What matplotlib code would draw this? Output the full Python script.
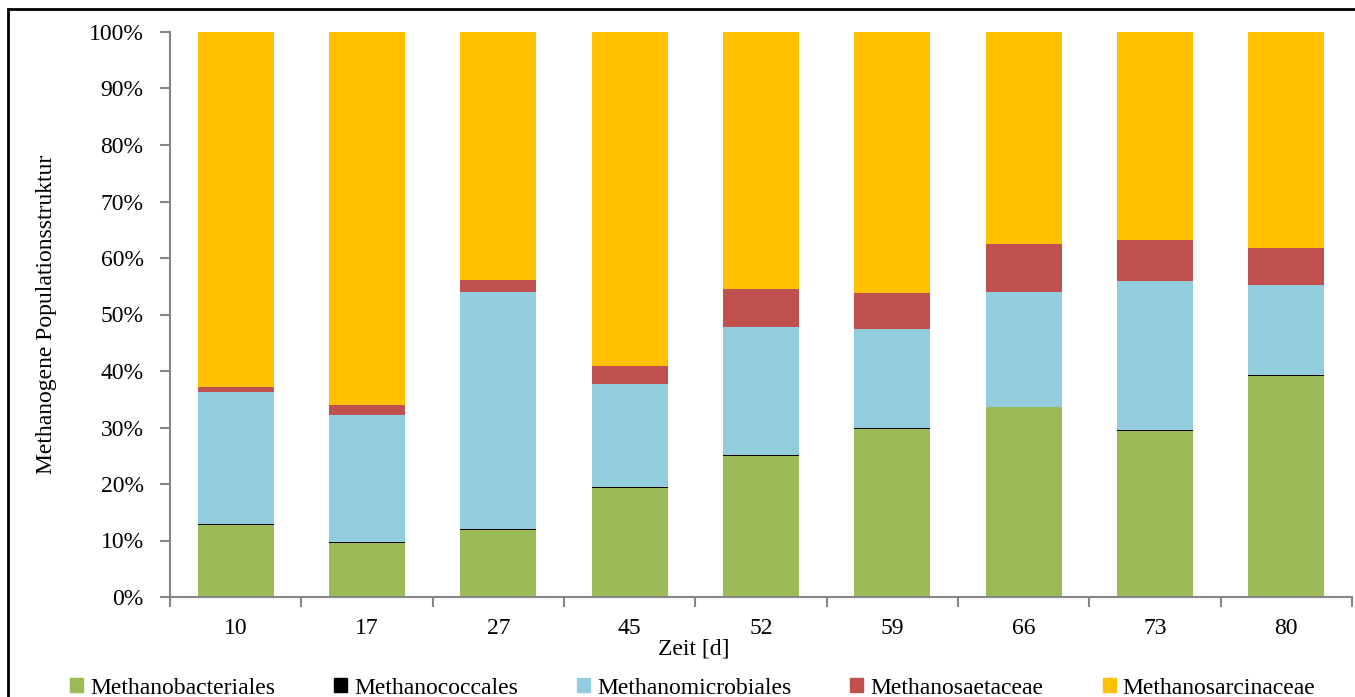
import matplotlib
matplotlib.use("Agg")
import matplotlib.pyplot as plt
from matplotlib.patches import Rectangle
import numpy as np

plt.rcParams['font.family'] = ['Liberation Serif', 'DejaVu Serif']

days = ['10', '17', '27', '45', '52', '59', '66', '73', '80']
groups = ['Methanobacteriales', 'Methanococcales', 'Methanomicrobiales',
          'Methanosaetaceae', 'Methanosarcinaceae']

# Anteile in Prozent je Probenahmetag
methanobacteriales = [12.7, 9.6, 11.8, 19.3, 25.0, 29.7, 33.6, 29.4, 39.1]
methanococcales = [0.3, 0.2, 0.15, 0.15, 0.2, 0.2, 0.0, 0.2, 0.2]
methanomicrobiales = [23.3, 22.4, 42.0, 18.2, 22.5, 17.6, 20.3, 26.3, 15.9]
methanosaetaceae = [0.9, 1.7, 2.1, 3.3, 6.9, 6.3, 8.5, 7.3, 6.6]
methanosarcinaceae = [62.8, 66.1, 43.9, 59.1, 45.4, 46.2, 37.6, 36.8, 38.2]

series = [methanobacteriales, methanococcales, methanomicrobiales,
          methanosaetaceae, methanosarcinaceae]
colors = ['#9BBB59', '#000000', '#93CDDD', '#C0504D', '#FFC000']
fs = 17

fig = plt.figure(figsize=(13.55, 6.97), dpi=100)
ax = fig.add_axes([170/1355, 1-597/697, 1182/1355, 565/697])

x = np.arange(len(days))
bottom = np.zeros(len(days))
for name, vals, c in zip(groups, series, colors):
    v = np.array(vals)
    ax.bar(x, v, 0.58, bottom=bottom, color=c, label=name, linewidth=0)
    bottom += v

ax.set_xlim(-0.5, len(days) - 0.5)
ax.set_ylim(0, 100)
ax.set_yticks(np.arange(0, 101, 10))
ax.set_yticklabels([f'{t}%' for t in range(0, 101, 10)])
ax.set_xticks(x)
ax.set_xticklabels(days)
ax.set_xticks(np.arange(-0.5, len(days)), minor=True)

for s in ['top', 'right']:
    ax.spines[s].set_visible(False)
for s in ['left', 'bottom']:
    ax.spines[s].set_color('#868686')
    ax.spines[s].set_linewidth(1.5)

ax.tick_params(axis='y', which='major', length=7, width=1.5, color='#868686',
               labelsize=fs, pad=12)
ax.tick_params(axis='x', which='major', length=0, labelsize=fs, pad=15)
ax.tick_params(axis='x', which='minor', length=7, width=1.5, color='#868686')

ax.set_xlabel('Zeit [d]', fontsize=fs)
ax.xaxis.set_label_coords(0.443, -0.074)
ax.set_ylabel('Methanogene Populationsstruktur', fontsize=fs)
ax.yaxis.set_label_coords(-0.096, 0.5)

handles = [Rectangle((0, 0), 1, 1, color=c) for c in colors]
fig.legend(handles, groups, loc='center left', ncol=5, frameon=False,
           bbox_to_anchor=(70/1355, 1-688/697), fontsize=fs,
           handlelength=0.55, handleheight=0.55, handletextpad=0.3,
           columnspacing=2.5, borderpad=0, borderaxespad=0)

# Rahmen um die Grafik
fig.add_artist(Rectangle((8/1355, -0.2), 2.0, 1-9/697+0.2,
                         transform=fig.transFigure, fill=False,
                         edgecolor='black', linewidth=2))

fig.savefig('out.png', dpi=100)
